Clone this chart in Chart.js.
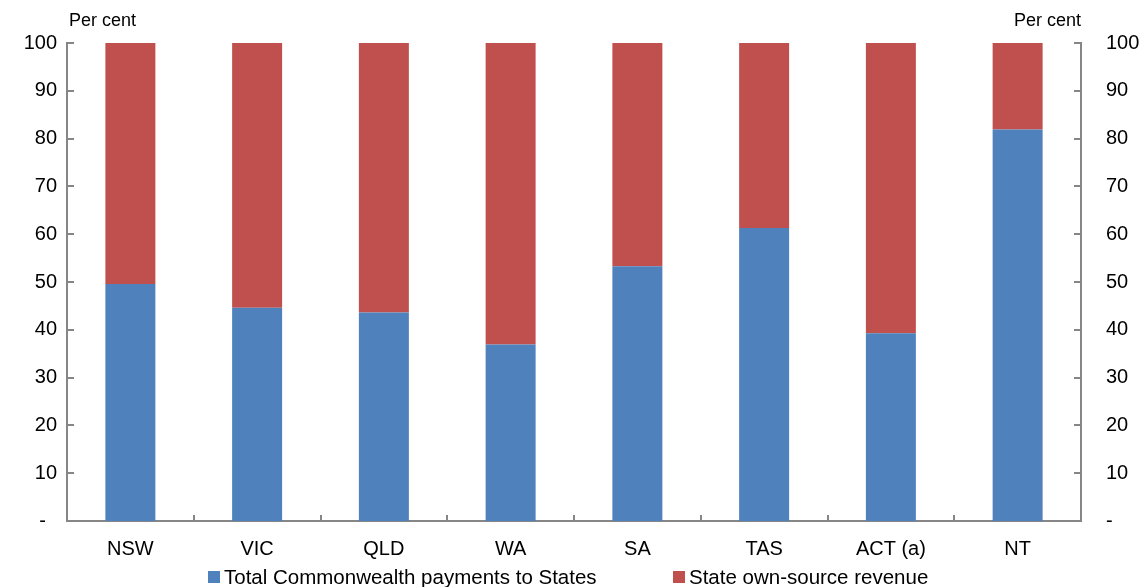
<!DOCTYPE html>
<html>
<head>
<meta charset="utf-8">
<script src="https://cdn.jsdelivr.net/npm/chart.js@4.4.1/dist/chart.umd.min.js"></script>
<style>
  html, body { margin: 0; padding: 0; background: #ffffff; }
  #wrap { position: relative; width: 1147px; height: 587px; }
</style>
</head>
<body>
<div id="wrap"><canvas id="c"></canvas></div>
<script>
const categories = ['NSW', 'VIC', 'QLD', 'WA', 'SA', 'TAS', 'ACT (a)', 'NT'];
const commonwealthPayments = [49.6, 44.6, 43.6, 36.9, 53.3, 61.3, 39.3, 81.9];
const ownSourceRevenue = [50.4, 55.4, 56.4, 63.1, 46.7, 38.7, 60.7, 18.1];
const seriesNames = ['Total Commonwealth payments to States', 'State own-source revenue'];
const yTickValues = [0, 10, 20, 30, 40, 50, 60, 70, 80, 90, 100];
const unitLabel = 'Per cent';

const FONT = '"Liberation Sans", Arial, sans-serif';
const AXIS_GREY = '#868686';

const decorPlugin = {
  id: 'decor',
  afterDraw(chart) {
    const ctx = chart.ctx;
    const area = chart.chartArea;
    const x = chart.scales.x, y = chart.scales.y;
    ctx.save();
    ctx.strokeStyle = AXIS_GREY;
    ctx.lineWidth = 2;
    ctx.beginPath();
    // inward tick marks on both value axes
    yTickValues.forEach(v => {
      const py = Math.round(y.getPixelForValue(v));
      ctx.moveTo(area.left, py); ctx.lineTo(area.left + 7, py);
      ctx.moveTo(area.right - 7, py); ctx.lineTo(area.right, py);
    });
    // inward tick marks at category boundaries
    for (let i = 0; i <= categories.length; i++) {
      const px = Math.round(x.getPixelForValue(i - 0.5));
      ctx.moveTo(px, area.bottom); ctx.lineTo(px, area.bottom - 6);
    }
    ctx.stroke();

    // unit labels
    ctx.fillStyle = '#000';
    ctx.font = '18px ' + FONT;
    ctx.textBaseline = 'middle';
    ctx.textAlign = 'left';
    ctx.fillText(unitLabel, area.left + 2, 21);
    ctx.textAlign = 'right';
    ctx.fillText(unitLabel, area.right, 21);

    // legend
    const ds = chart.data.datasets;
    const boxX = [208, 673];
    ctx.font = '20.5px ' + FONT;
    ctx.textAlign = 'left';
    ds.forEach((d, i) => {
      ctx.fillStyle = d.backgroundColor;
      ctx.fillRect(boxX[i], 571, 12, 12);
      ctx.fillStyle = '#000';
      ctx.fillText(d.label, boxX[i] + 16, 578);
    });
    ctx.restore();
  }
};

new Chart(document.getElementById('c'), {
  type: 'bar',
  data: {
    labels: categories,
    datasets: [
      { label: seriesNames[0], data: commonwealthPayments, backgroundColor: '#4F81BD', borderWidth: 0 },
      { label: seriesNames[1], data: ownSourceRevenue, backgroundColor: '#C0504D', borderWidth: 0 }
    ]
  },
  options: {
    responsive: true,
    maintainAspectRatio: false,
    animation: false,
    devicePixelRatio: 1,
    layout: { padding: { top: 43, left: 0, right: 0, bottom: 0 } },
    datasets: { bar: { categoryPercentage: 0.8, barPercentage: 0.493 } },
    plugins: { legend: { display: false }, tooltip: { enabled: false }, title: { display: false } },
    scales: {
      x: {
        stacked: true,
        grid: { display: false, drawTicks: false },
        border: { display: true, color: AXIS_GREY, width: 2 },
        ticks: { color: '#000', font: { family: FONT, size: 20 }, padding: 16, maxRotation: 0 },
        afterFit(s) { s.height = 66; }
      },
      y: {
        stacked: true,
        position: 'left',
        min: 0, max: 100,
        grid: { display: false, drawTicks: false },
        border: { display: true, color: AXIS_GREY, width: 2 },
        ticks: {
          stepSize: 10, color: '#000', font: { family: FONT, size: 20 }, padding: 10,
          callback: v => v === 0 ? '-  ' : String(v)
        },
        afterFit(s) { s.width = 67; }
      },
      y2: {
        position: 'right',
        min: 0, max: 100,
        grid: { display: false, drawTicks: false },
        border: { display: true, color: AXIS_GREY, width: 2 },
        ticks: {
          stepSize: 10, color: '#000', font: { family: FONT, size: 20 }, padding: 25,
          callback: v => v === 0 ? '-' : String(v)
        },
        afterFit(s) { s.width = 66; }
      }
    }
  },
  plugins: [decorPlugin]
});
</script>
</body>
</html>
